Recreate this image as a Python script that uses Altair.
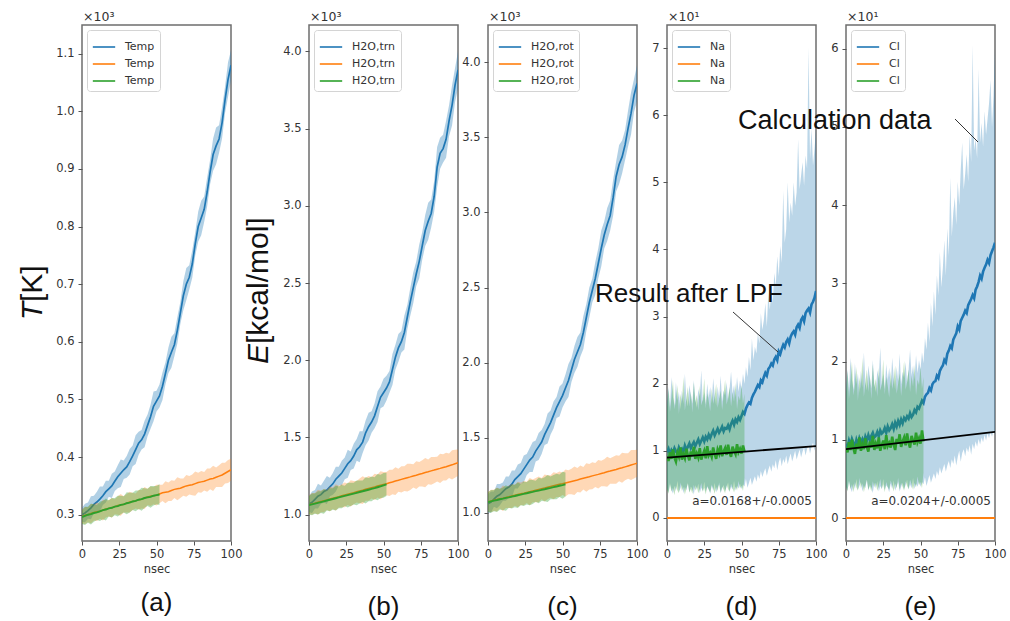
import altair as alt
import pandas as pd

# ---------------- data ----------------
T2 = list(range(0, 101, 2))     # 0..100 step 2
T2G = list(range(0, 53, 2))     # 0..52 step 2
T1 = list(range(0, 101))        # 0..100 step 1
T1G = list(range(0, 53))        # 0..52 step 1
FIT_T = [0, 100]

# (a) Temp  [x10^3 K]
A_BLUE = [0.300,0.303,0.307,0.312,0.318,0.322,0.327,0.333,0.340,0.345,
          0.350,0.358,0.366,0.372,0.378,0.383,0.392,0.402,0.413,0.424,
          0.430,0.440,0.455,0.470,0.488,0.497,0.506,0.523,0.545,0.568,
          0.582,0.595,0.620,0.650,0.680,0.700,0.712,0.735,0.770,0.800,
          0.815,0.830,0.860,0.895,0.925,0.940,0.952,0.980,1.020,1.055,
          1.080]
A_BLUE_SP = [0.012,0.016,0.014,0.02,0.015,0.018,0.022,0.016,0.019,0.014,
             0.021,0.017,0.02,0.024,0.016,0.019,0.022,0.018,0.025,0.02,
             0.017,0.023,0.019,0.021,0.026,0.018,0.02,0.024,0.019,0.022,
             0.027,0.02,0.023,0.019,0.025,0.028,0.021,0.024,0.02,0.026,
             0.03,0.022,0.025,0.021,0.028,0.032,0.024,0.027,0.023,0.03,
             0.026]
A_ORANGE = [0.297,0.299,0.300,0.302,0.304,0.305,0.306,0.308,0.310,0.311,
            0.312,0.314,0.316,0.317,0.318,0.320,0.322,0.323,0.324,0.326,
            0.327,0.329,0.331,0.332,0.333,0.334,0.336,0.338,0.339,0.340,
            0.342,0.344,0.345,0.346,0.348,0.350,0.351,0.352,0.354,0.356,
            0.357,0.358,0.360,0.362,0.363,0.365,0.367,0.369,0.372,0.375,
            0.378]
A_ORANGE_SP = [0.012,0.015,0.013,0.017,0.014,0.016,0.013,0.018,0.015,0.014,
               0.017,0.013,0.016,0.019,0.014,0.016,0.018,0.015,0.013,0.017,
               0.016,0.019,0.014,0.017,0.015,0.018,0.016,0.014,0.019,0.016,
               0.018,0.015,0.02,0.017,0.015,0.019,0.016,0.018,0.021,0.017,
               0.019,0.016,0.02,0.018,0.022,0.017,0.019,0.021,0.018,0.02,
               0.019]
A_GREEN = [0.296,0.298,0.300,0.301,0.303,0.304,0.306,0.308,0.309,0.311,
           0.312,0.314,0.315,0.317,0.318,0.320,0.321,0.323,0.324,0.326,
           0.327,0.329,0.330,0.331,0.333,0.334,0.335]
A_GREEN_SP = [0.012,0.016,0.014,0.018,0.015,0.013,0.017,0.016,0.019,0.014,
              0.017,0.015,0.018,0.016,0.014,0.019,0.017,0.015,0.018,0.016,
              0.02,0.017,0.015,0.019,0.017,0.016,0.018]

# (b) H2O,trn  [x10^3 kcal/mol]
B_BLUE = [1.07,1.08,1.10,1.12,1.13,1.15,1.16,1.18,1.20,1.23,
          1.25,1.27,1.30,1.33,1.35,1.38,1.42,1.44,1.47,1.53,
          1.57,1.60,1.64,1.70,1.76,1.79,1.82,1.86,1.94,2.02,
          2.08,2.12,2.18,2.28,2.38,2.47,2.56,2.64,2.74,2.84,
          2.90,2.95,3.06,3.25,3.34,3.37,3.43,3.55,3.65,3.78,
          3.88]
B_BLUE_SP = [0.05,0.07,0.06,0.08,0.06,0.07,0.09,0.06,0.07,0.08,
             0.06,0.08,0.07,0.09,0.06,0.08,0.07,0.1,0.07,0.08,
             0.09,0.07,0.08,0.1,0.07,0.09,0.08,0.07,0.1,0.08,
             0.09,0.07,0.11,0.08,0.09,0.1,0.08,0.11,0.09,0.1,
             0.12,0.09,0.1,0.13,0.1,0.09,0.12,0.1,0.13,0.11,
             0.12]
B_ORANGE = [1.065,1.070,1.075,1.081,1.086,1.091,1.096,1.102,1.107,1.112,
            1.117,1.123,1.128,1.133,1.138,1.143,1.149,1.154,1.159,1.165,
            1.170,1.175,1.180,1.186,1.191,1.196,1.201,1.207,1.212,1.218,
            1.223,1.229,1.234,1.240,1.245,1.251,1.256,1.262,1.267,1.273,
            1.278,1.284,1.289,1.295,1.300,1.306,1.311,1.317,1.323,1.330,
            1.337]
B_ORANGE_SP = [0.06,0.07,0.065,0.08,0.07,0.075,0.065,0.08,0.07,0.085,
               0.07,0.075,0.08,0.07,0.085,0.075,0.07,0.08,0.09,0.075,
               0.08,0.07,0.085,0.075,0.09,0.08,0.075,0.085,0.08,0.09,
               0.075,0.085,0.08,0.09,0.085,0.075,0.09,0.08,0.085,0.095,
               0.08,0.09,0.085,0.08,0.095,0.085,0.09,0.08,0.095,0.09,
               0.085]
B_GREEN = [1.062,1.067,1.072,1.077,1.082,1.087,1.092,1.097,1.102,1.107,
           1.112,1.117,1.122,1.127,1.132,1.137,1.142,1.147,1.152,1.157,
           1.162,1.167,1.172,1.178,1.184,1.190,1.196]
B_GREEN_SP = [0.06,0.07,0.065,0.075,0.07,0.08,0.065,0.075,0.07,0.08,
              0.07,0.075,0.065,0.08,0.075,0.07,0.08,0.075,0.07,0.085,
              0.075,0.08,0.07,0.085,0.075,0.08,0.075]

# (c) H2O,rot  [x10^3 kcal/mol]
C_BLUE = [1.06,1.07,1.09,1.11,1.12,1.14,1.16,1.17,1.19,1.22,
          1.24,1.26,1.29,1.32,1.35,1.37,1.41,1.44,1.47,1.52,
          1.56,1.60,1.65,1.70,1.74,1.78,1.83,1.88,1.95,2.02,
          2.07,2.12,2.20,2.30,2.40,2.48,2.56,2.66,2.76,2.85,
          2.92,2.98,3.10,3.24,3.32,3.37,3.45,3.56,3.66,3.78,
          3.86]
C_BLUE_SP = [0.06,0.07,0.05,0.08,0.07,0.06,0.08,0.07,0.09,0.06,
             0.08,0.07,0.09,0.07,0.08,0.1,0.07,0.09,0.08,0.07,
             0.1,0.08,0.09,0.07,0.1,0.08,0.09,0.11,0.08,0.09,
             0.1,0.08,0.11,0.09,0.1,0.08,0.11,0.1,0.12,0.09,
             0.11,0.1,0.12,0.1,0.13,0.11,0.1,0.12,0.14,0.11,
             0.12]
C_ORANGE = [1.072,1.077,1.082,1.087,1.092,1.096,1.101,1.106,1.111,1.116,
            1.121,1.126,1.130,1.135,1.140,1.145,1.150,1.155,1.160,1.164,
            1.169,1.174,1.179,1.184,1.189,1.193,1.198,1.203,1.208,1.213,
            1.218,1.224,1.229,1.234,1.239,1.245,1.250,1.255,1.261,1.266,
            1.272,1.277,1.283,1.288,1.294,1.299,1.305,1.311,1.317,1.323,
            1.329]
C_ORANGE_SP = [0.065,0.075,0.07,0.08,0.065,0.085,0.07,0.075,0.08,0.07,
               0.085,0.075,0.08,0.07,0.09,0.075,0.08,0.085,0.07,0.09,
               0.08,0.075,0.09,0.08,0.085,0.075,0.09,0.08,0.085,0.095,
               0.08,0.09,0.075,0.095,0.085,0.09,0.08,0.095,0.085,0.09,
               0.1,0.085,0.09,0.095,0.085,0.1,0.09,0.085,0.1,0.095,
               0.09]
C_GREEN = [1.070,1.075,1.080,1.084,1.089,1.093,1.098,1.102,1.107,1.111,
           1.116,1.120,1.125,1.129,1.134,1.138,1.143,1.147,1.152,1.156,
           1.161,1.165,1.170,1.174,1.179,1.183,1.188]
C_GREEN_SP = [0.065,0.075,0.07,0.08,0.07,0.075,0.085,0.07,0.08,0.075,
              0.085,0.07,0.08,0.075,0.085,0.08,0.07,0.085,0.075,0.08,
              0.09,0.075,0.08,0.085,0.075,0.09,0.08]

# (d) Na  [x10^1]
D_BLUE = [0.98,1.03,0.95,1.01,0.97,1.04,0.99,0.96,1.05,1.00,
          1.03,0.98,1.08,1.02,1.06,1.11,1.04,1.09,1.13,1.07,
          1.12,1.17,1.10,1.15,1.20,1.14,1.21,1.17,1.24,1.19,
          1.25,1.30,1.23,1.28,1.33,1.27,1.31,1.36,1.29,1.34,
          1.33,1.38,1.32,1.40,1.45,1.39,1.47,1.43,1.50,1.46,
          1.52,1.58,1.55,1.63,1.68,1.72,1.70,1.79,1.84,1.88,
          1.93,1.98,1.95,2.05,2.02,2.10,2.16,2.12,2.22,2.25,
          2.30,2.27,2.36,2.40,2.35,2.48,2.44,2.52,2.58,2.54,
          2.62,2.66,2.60,2.70,2.75,2.78,2.73,2.84,2.88,2.83,
          2.95,2.99,2.93,3.05,3.09,3.12,3.06,3.18,3.22,3.28,
          3.38]
D_BLUE_LO = [0.45,0.38,0.52,0.42,0.36,0.48,0.40,0.55,0.39,0.44,
             0.50,0.37,0.46,0.41,0.53,0.38,0.47,0.43,0.35,0.49,
             0.42,0.51,0.37,0.45,0.40,0.54,0.39,0.46,0.43,0.36,
             0.48,0.41,0.52,0.38,0.45,0.50,0.37,0.44,0.49,0.40,
             0.46,0.53,0.39,0.47,0.42,0.55,0.41,0.48,0.44,0.51,
             0.43,0.50,0.47,0.58,0.45,0.52,0.60,0.49,0.56,0.62,
             0.54,0.65,0.58,0.70,0.61,0.68,0.74,0.63,0.72,0.78,
             0.69,0.80,0.74,0.86,0.71,0.83,0.90,0.77,0.88,0.82,
             0.93,0.80,0.89,0.96,0.84,0.92,1.00,0.87,0.95,1.02,
             0.90,0.99,1.05,0.93,1.03,1.08,0.96,1.06,1.12,1.00,
             1.10]
D_BLUE_HI = [1.72,1.95,1.65,2.10,1.80,1.68,2.02,1.75,1.88,1.62,
             1.90,1.70,2.15,1.78,1.66,1.98,1.84,1.70,2.05,1.76,
             1.64,1.92,1.81,2.20,1.73,1.87,1.69,2.00,1.79,1.95,
             1.71,2.08,1.83,1.67,1.96,1.78,2.12,1.74,1.90,1.82,
             2.02,1.76,1.93,2.18,1.85,1.98,1.80,2.10,1.88,2.05,
             1.92,2.15,2.00,2.25,2.10,2.40,2.20,2.67,2.35,2.55,
             2.45,2.75,2.60,3.05,2.80,2.95,3.20,2.85,3.35,3.10,
             3.40,3.20,3.65,3.45,3.90,3.60,4.05,3.80,4.87,4.10,
             4.30,5.00,4.40,4.70,4.50,5.00,4.65,4.85,5.64,4.90,
             5.10,5.30,4.95,5.40,5.20,7.00,5.35,5.80,5.25,5.50,
             5.80]
D_GREEN = [0.92,0.85,0.98,0.88,1.02,0.90,0.84,0.97,0.91,1.05,
           0.87,0.95,0.89,1.03,0.93,0.86,0.99,0.92,1.06,0.88,
           0.96,0.90,1.04,0.87,0.94,1.00,0.89,1.07,0.93,0.97,
           0.91,1.05,0.95,0.88,1.02,0.96,1.08,0.92,0.99,1.04,
           0.94,1.09,0.97,0.91,1.06,1.00,0.95,1.10,0.98,1.03,
           0.96,1.08,0.99]
D_GREEN_LO = [0.42,0.36,0.50,0.39,0.45,0.34,0.48,0.41,0.37,0.53,
              0.40,0.46,0.35,0.44,0.51,0.38,0.43,0.36,0.49,0.41,
              0.47,0.37,0.43,0.52,0.39,0.45,0.35,0.48,0.42,0.38,
              0.50,0.44,0.36,0.46,0.40,0.53,0.38,0.47,0.42,0.37,
              0.49,0.43,0.39,0.51,0.45,0.38,0.47,0.41,0.55,0.44,
              0.48,0.40,0.60]
D_GREEN_HI = [1.65,1.92,1.58,1.80,2.05,1.62,1.75,1.98,1.55,1.85,
              1.70,2.10,1.60,1.78,1.95,1.66,1.88,1.57,2.02,1.72,
              1.83,1.60,1.97,1.68,1.76,2.08,1.63,1.86,1.74,1.59,
              1.93,1.70,1.81,2.00,1.64,1.77,1.90,1.61,1.84,2.06,
              1.69,1.79,1.95,1.66,1.87,1.73,2.01,1.62,1.82,1.75,
              1.98,1.70,1.85]
D_FIT = [0.90, 1.07]

# (e) Cl  [x10^1]
E_BLUE = [0.95,0.90,0.99,0.93,1.01,0.96,0.91,1.00,0.94,1.02,
          0.97,1.01,0.95,1.04,0.99,1.06,1.00,1.05,1.09,1.03,
          1.05,1.10,1.04,1.12,1.08,1.10,1.15,1.09,1.17,1.12,
          1.15,1.20,1.14,1.22,1.17,1.24,1.19,1.26,1.21,1.28,
          1.25,1.30,1.27,1.34,1.29,1.32,1.38,1.35,1.42,1.40,
          1.45,1.50,1.47,1.55,1.58,1.60,1.66,1.63,1.71,1.74,
          1.75,1.82,1.79,1.88,1.92,1.95,2.02,1.99,2.10,2.14,
          2.20,2.17,2.28,2.32,2.36,2.45,2.41,2.52,2.56,2.60,
          2.65,2.62,2.72,2.76,2.80,2.85,2.81,2.92,2.96,3.02,
          3.10,3.06,3.15,3.20,3.24,3.30,3.26,3.36,3.41,3.46,
          3.52]
E_BLUE_LO = [0.40,0.35,0.47,0.38,0.33,0.44,0.37,0.50,0.36,0.41,
             0.46,0.34,0.42,0.38,0.49,0.35,0.43,0.39,0.32,0.45,
             0.38,0.47,0.34,0.41,0.37,0.50,0.36,0.42,0.39,0.33,
             0.44,0.37,0.48,0.35,0.41,0.46,0.34,0.40,0.45,0.37,
             0.42,0.49,0.36,0.43,0.38,0.51,0.37,0.44,0.40,0.47,
             0.40,0.46,0.43,0.52,0.41,0.48,0.55,0.45,0.51,0.57,
             0.50,0.60,0.54,0.65,0.57,0.63,0.69,0.59,0.67,0.73,
             0.64,0.75,0.69,0.80,0.67,0.78,0.86,0.72,0.83,0.88,
             0.79,0.90,0.84,0.93,0.81,0.95,0.88,0.98,0.91,1.01,
             0.94,1.03,0.97,1.06,0.99,1.08,1.02,1.10,1.04,1.12,
             1.06]
E_BLUE_HI = [1.68,1.90,1.62,2.05,1.76,1.64,1.98,1.71,1.85,1.60,
             1.88,1.67,2.12,1.74,1.63,1.95,1.80,1.66,2.02,1.72,
             1.61,1.89,1.78,2.18,1.70,1.84,1.65,1.97,1.76,1.92,
             1.68,2.05,1.80,1.64,1.93,1.75,2.10,1.71,1.87,1.79,
             1.99,1.73,1.90,2.15,1.82,1.95,1.77,2.08,1.85,2.02,
             1.90,2.12,1.98,2.30,2.15,2.50,2.25,2.75,2.45,2.90,
             2.60,3.10,2.85,3.40,2.95,3.20,3.55,3.10,3.70,3.35,
             4.35,3.60,3.90,4.10,3.75,4.30,4.00,4.45,4.80,4.20,
             4.40,4.65,4.30,4.90,4.55,6.04,4.70,4.85,4.60,5.74,
             4.80,5.05,4.75,5.20,4.90,5.10,5.30,5.60,5.00,5.40,
             6.00]
E_GREEN = [0.90,0.84,0.97,0.87,1.00,0.89,0.82,0.95,0.88,1.03,
           0.86,0.94,0.88,1.02,0.91,0.85,0.98,0.90,1.05,0.87,
           0.95,0.89,1.03,0.86,0.93,0.99,0.88,1.06,0.92,0.96,
           0.90,1.04,0.94,0.87,1.01,0.95,1.07,0.91,0.98,1.03,
           0.93,1.08,0.96,0.90,1.05,0.99,0.94,1.09,0.97,1.02,
           0.95,1.12,0.98]
E_GREEN_LO = [0.40,0.34,0.48,0.37,0.43,0.33,0.46,0.39,0.35,0.51,
              0.38,0.44,0.33,0.42,0.49,0.36,0.41,0.34,0.47,0.39,
              0.45,0.35,0.41,0.50,0.37,0.43,0.33,0.46,0.40,0.36,
              0.48,0.42,0.34,0.44,0.38,0.51,0.36,0.45,0.40,0.35,
              0.47,0.41,0.37,0.49,0.43,0.36,0.45,0.39,0.53,0.42,
              0.46,0.38,0.58]
E_GREEN_HI = [1.60,1.88,1.52,1.75,2.00,1.57,1.70,1.93,1.50,1.80,
              1.65,2.05,1.55,1.73,1.90,1.61,1.83,1.52,1.97,1.67,
              1.78,1.55,1.92,1.63,1.71,2.03,1.58,1.81,1.69,1.54,
              1.88,1.65,1.76,1.95,1.59,1.72,1.85,1.56,1.79,2.01,
              1.64,1.74,1.90,1.61,1.82,1.68,1.96,1.57,1.77,1.70,
              1.93,1.65,1.80]
E_FIT = [0.88, 1.10]
ZERO_LINE = [0.0, 0.0]

LEGEND_LABELS = ["Temp", "H2O,trn", "H2O,rot", "Na", "Cl"]
EXPONENTS = ["\u00d710\u00b3", "\u00d710\u00b3", "\u00d710\u00b3", "\u00d710\u00b9", "\u00d710\u00b9"]
SUB_LABELS = ["(a)", "(b)", "(c)", "(d)", "(e)"]
X_TICKS = [0, 25, 50, 75, 100]

# ---------------- styling ----------------
BLUE, ORANGE, GREEN = "#1f77b4", "#ff7f0e", "#2ca02c"
KEYS = ["k1", "k2", "k3"]
W, H = 149, 516
TICK_FONT = "DejaVu Sans"
NOTE_FONT = "Liberation Sans"
ONE = pd.DataFrame({"z": [0]})


def frame(ts, v, lo=None, hi=None, key="k1"):
    assert len(ts) == len(v), (len(ts), len(v))
    d = {"t": ts, "v": v, "s": [key] * len(ts)}
    if lo is not None:
        assert len(lo) == len(ts) and len(hi) == len(ts), (len(ts), len(lo), len(hi))
        d["lo"] = lo
        d["hi"] = hi
    return pd.DataFrame(d)


def spread_frame(ts, v, sp, key):
    assert len(sp) == len(v)
    return frame(ts, v, [a - b for a, b in zip(v, sp)], [a + b for a, b in zip(v, sp)], key)


def text_layer(txt, x, y, size, font=NOTE_FONT, align="left", baseline="alphabetic",
               angle=None, style=None, color="#111111"):
    kw = dict(text=txt, align=align, baseline=baseline, fontSize=size, font=font, color=color)
    if angle is not None:
        kw["angle"] = angle
    if style is not None:
        kw["fontStyle"] = style
    return alt.Chart(ONE).mark_text(**kw).encode(x=alt.value(x), y=alt.value(y))


def rule_layer(x, y, x2, y2):
    return alt.Chart(ONE).mark_rule(color="#333333", strokeWidth=1).encode(
        x=alt.value(x), y=alt.value(y), x2=alt.value(x2), y2=alt.value(y2))


def panel(idx, series, ydom, yticks, yfmt, extra):
    xax = alt.Axis(values=X_TICKS, format="d", title="nsec", labelFlush=False,
                   labelOverlap=False, grid=False, domain=False, tickSize=4,
                   tickColor="#555555", labelColor="#333333", labelFont=TICK_FONT,
                   labelFontSize=11.5, labelPadding=3, titleFont=TICK_FONT,
                   titleFontSize=11.5, titleFontWeight="normal", titleColor="#333333",
                   titlePadding=4)
    yax = alt.Axis(values=yticks, format=yfmt, title=None, labelFlush=False,
                   labelOverlap=False, grid=False, domain=False, tickSize=4,
                   tickColor="#555555", labelColor="#333333", labelFont=TICK_FONT,
                   labelFontSize=11.5, labelPadding=4)
    xenc = alt.X("t:Q", scale=alt.Scale(domain=[0, 100], nice=False, zero=False), axis=xax)
    ysc = alt.Scale(domain=ydom, nice=False, zero=False)
    leg = alt.Legend(orient="top-left", offset=5, title=None,
                     labelExpr="'%s'" % LEGEND_LABELS[idx], symbolType="stroke",
                     symbolSize=500, symbolStrokeWidth=1.6, labelFont=TICK_FONT,
                     labelFontSize=11, labelColor="#333333", labelOffset=9,
                     fillColor="rgba(255,255,255,0.85)", strokeColor="#d4d4d4",
                     cornerRadius=3, padding=5, rowPadding=0)
    cs = alt.Scale(domain=KEYS, range=[BLUE, ORANGE, GREEN])
    layers = []
    for df, color, op, lw in series:
        base = alt.Chart(df)
        if "lo" in df.columns:
            layers.append(base.mark_area(color=color, opacity=op, clip=True).encode(
                x=xenc, y=alt.Y("lo:Q", scale=ysc, axis=yax), y2="hi:Q"))
        layers.append(base.mark_line(strokeWidth=lw, clip=True).encode(
            x=xenc, y=alt.Y("v:Q", scale=ysc, axis=yax),
            color=alt.Color("s:N", scale=cs, legend=leg)))
    for df in extra.get("fit", []):
        layers.append(alt.Chart(df).mark_line(color="black", strokeWidth=1.8, clip=True).encode(
            x=xenc, y=alt.Y("v:Q", scale=ysc, axis=yax)))
    layers.append(text_layer(EXPONENTS[idx], 1, -4, 12.5, font=TICK_FONT, color="#333333"))
    layers.append(text_layer(SUB_LABELS[idx], W / 2, 578 if idx == 0 else 582, 26,
                             align="center", baseline="middle"))
    layers += extra.get("notes", [])
    return alt.layer(*layers).properties(
        width=W, height=H,
        view=alt.ViewBackground(stroke="#6e6e6e", strokeWidth=1.5))


pa = panel(0, [
    (spread_frame(T2, A_BLUE, A_BLUE_SP, "k1"), BLUE, 0.35, 1.7),
    (spread_frame(T2, A_ORANGE, A_ORANGE_SP, "k2"), ORANGE, 0.3, 1.5),
    (spread_frame(T2G, A_GREEN, A_GREEN_SP, "k3"), GREEN, 0.35, 1.9),
], [0.2544, 1.1498], [0.3, 0.4, 0.5, 0.6, 0.7, 0.8, 0.9, 1.0, 1.1], ".1f",
    {"notes": [text_layer("T", -40, 277, 30, align="right", angle=270, style="italic"),
               text_layer("[K]", -40, 277, 30, align="left", angle=270)]})

pb = panel(1, [
    (spread_frame(T2, B_BLUE, B_BLUE_SP, "k1"), BLUE, 0.35, 1.7),
    (spread_frame(T2, B_ORANGE, B_ORANGE_SP, "k2"), ORANGE, 0.3, 1.5),
    (spread_frame(T2G, B_GREEN, B_GREEN_SP, "k3"), GREEN, 0.35, 1.9),
], [0.830, 4.170], [1.0, 1.5, 2.0, 2.5, 3.0, 3.5, 4.0], ".1f",
    {"notes": [text_layer("E", -41, 319, 30, align="right", angle=270, style="italic"),
               text_layer("[kcal/mol]", -41, 319, 30, align="left", angle=270)]})

pc = panel(2, [
    (spread_frame(T2, C_BLUE, C_BLUE_SP, "k1"), BLUE, 0.35, 1.7),
    (spread_frame(T2, C_ORANGE, C_ORANGE_SP, "k2"), ORANGE, 0.3, 1.5),
    (spread_frame(T2G, C_GREEN, C_GREEN_SP, "k3"), GREEN, 0.35, 1.9),
], [0.811, 4.249], [1.0, 1.5, 2.0, 2.5, 3.0, 3.5, 4.0], ".1f", {})

pd_ = panel(3, [
    (frame(T1, D_BLUE, D_BLUE_LO, D_BLUE_HI, "k1"), BLUE, 0.3, 2.6),
    (frame(FIT_T, ZERO_LINE, key="k2"), ORANGE, 0.3, 2.0),
    (frame(T1G, D_GREEN, D_GREEN_LO, D_GREEN_HI, "k3"), GREEN, 0.3, 2.6),
], [-0.343, 7.343], [0, 1, 2, 3, 4, 5, 6, 7], "d",
    {"fit": [frame(FIT_T, D_FIT)],
     "notes": [text_layer("a=0.0168+/-0.0005", 145, 480, 12, font=TICK_FONT,
                          align="right", color="#333333"),
               text_layer("Result after LPF", -72, 277, 26),
               rule_layer(66, 287, 111, 327)]})

pe = panel(4, [
    (frame(T1, E_BLUE, E_BLUE_LO, E_BLUE_HI, "k1"), BLUE, 0.3, 2.6),
    (frame(FIT_T, ZERO_LINE, key="k2"), ORANGE, 0.3, 2.0),
    (frame(T1G, E_GREEN, E_GREEN_LO, E_GREEN_HI, "k3"), GREEN, 0.3, 2.6),
], [-0.294, 6.303], [0, 1, 2, 3, 4, 5, 6], "d",
    {"fit": [frame(FIT_T, E_FIT)],
     "notes": [text_layer("a=0.0204+/-0.0005", 145, 480, 12, font=TICK_FONT,
                          align="right", color="#333333"),
               text_layer("Calculation data", -108, 104, 27),
               rule_layer(109, 94, 132, 117)]})

spacer = alt.Chart(ONE).mark_point(opacity=0).encode(
    x=alt.X("z:Q", axis=None), y=alt.Y("z:Q", axis=None)
).properties(width=18, height=H)

chart = alt.hconcat(pa, spacer, pb, pc, pd_, pe, spacing=30, bounds="flush").resolve_scale(
    color="independent", x="independent", y="independent"
).properties(
    padding={"left": 17, "top": 10, "right": 0, "bottom": 0},
    background="white",
).configure_view(stroke=None)

chart.save("out.html", embed_options={"renderer": "svg", "actions": False})
